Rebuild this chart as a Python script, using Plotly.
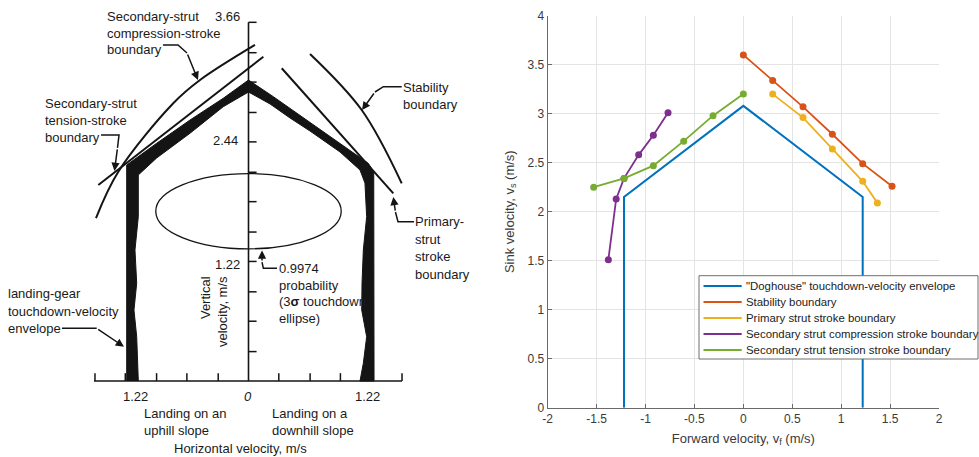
import plotly.graph_objects as go

W, H = 979, 457

# ---------------- right panel data (m/s) ----------------
vf_doghouse = [-1.22, -1.22, 0.0, 1.22, 1.22]
vs_doghouse = [0.0, 2.15, 3.08, 2.15, 0.0]
vf_stability = [0.0, 0.30, 0.61, 0.91, 1.22, 1.52]
vs_stability = [3.60, 3.34, 3.07, 2.79, 2.49, 2.26]
vf_primary = [0.30, 0.61, 0.91, 1.22, 1.37]
vs_primary = [3.20, 2.96, 2.64, 2.31, 2.09]
vf_compression = [-1.38, -1.30, -1.22, -1.07, -0.92, -0.77]
vs_compression = [1.51, 2.13, 2.34, 2.58, 2.78, 3.01]
vf_tension = [-1.53, -1.22, -0.92, -0.61, -0.31, 0.0]
vs_tension = [2.25, 2.34, 2.47, 2.72, 2.98, 3.20]

series_names = ['"Doghouse" touchdown-velocity envelope', "Stability boundary",
                "Primary strut stroke boundary",
                "Secondary strut compression stroke boundary",
                "Secondary strut tension stroke boundary"]
series_colors = ["#0072BD", "#D95319", "#EDB120", "#7E2F8E", "#77AC30"]

x_ticks = [-2, -1.5, -1, -0.5, 0, 0.5, 1, 1.5, 2]
x_ticktext = ["-2", "-1.5", "-1", "-0.5", "0", "0.5", "1", "1.5", "2"]
y_ticks = [0, 0.5, 1, 1.5, 2, 2.5, 3, 3.5, 4]
y_ticktext = ["0", "0.5", "1", "1.5", "2", "2.5", "3", "3.5", "4"]

# ---------------- left panel (scanned sketch) data, m/s ----------------
env_x = [-1.206, -1.206, -1.206, -0.909, -0.579, -0.250, 0.0, 0.246, 0.576, 0.906, 1.186,
         1.240, 1.243, 1.243,
         1.104, 1.137, 1.170, 1.121, 1.124, 1.137, 1.170, 1.153, 1.104,
         0.906, 0.609, 0.411, 0.213, 0.0, -0.250, -0.579, -0.909, -1.091,
         -1.091, -1.124, -1.107, -1.134, -1.107, -1.097, -1.091]
env_y = [0.0, 1.337, 2.204, 2.426, 2.663, 2.885, 3.071, 2.901, 2.663, 2.426, 2.221,
         2.133, 1.337, 0.0,
         0.0, 0.181, 0.452, 0.724, 0.997, 1.337, 1.677, 2.020, 2.153,
         2.337, 2.551, 2.684, 2.827, 2.949, 2.799, 2.528, 2.276, 2.102,
         1.677, 1.337, 0.997, 0.724, 0.452, 0.181, 0.0]

comp_x = [-1.510, -1.289, -0.745, -0.480, 0.064]
comp_y = [1.663, 2.136, 2.834, 3.071, 3.429]
tens_x = [-1.487, 0.147]
tens_y = [2.000, 3.309]
prim_x = [0.329, 1.434]
prim_y = [3.191, 1.915]
stab_x = [0.609, 1.121, 1.517]
stab_y = [3.337, 2.765, 2.017]

ell_cx, ell_cy, ell_a, ell_b = 0.0, 1.733, 0.918, 0.384

h_axis_x = [-1.53, 1.52]
h_tick_x = [-1.52, -1.22, -0.91, -0.61, -0.30, 0.30, 0.61, 0.91, 1.22, 1.52]
v_axis_y = [0.0, 3.66]
v_tick_y = [0.30, 0.61, 0.91, 1.22, 1.52, 1.83, 2.13, 2.44, 2.74, 3.05, 3.35, 3.66]

# leader polylines (last point = arrow tip)
leaders = [
    ([-0.847, -0.698, -0.609, -0.500], [3.429, 3.429, 3.347, 3.071]),
    ([-1.460, -1.282, -1.297, -1.327], [2.510, 2.510, 2.378, 2.143]),
    ([1.517, 1.335, 1.252, 1.124], [3.003, 3.003, 2.949, 2.765]),
    ([1.639, 1.480, 1.455, 1.434], [1.626, 1.626, 1.724, 1.878]),
    ([0.282, 0.147, 0.134, 0.134], [1.150, 1.150, 1.214, 1.332]),
    ([-1.847, -1.503, -1.233], [0.538, 0.538, 0.350]),
]


def PX(x):
    return x / W


def PY(y):
    return 1 - y / H


fig = go.Figure()

# ================= LEFT PANEL =================
INK = "#141414"
fig.add_trace(go.Scatter(x=env_x, y=env_y, fill="toself", fillcolor=INK, mode="lines",
                         line=dict(color=INK, width=1), xaxis="x2", yaxis="y2", hoverinfo="skip"))
for cx, cy, shp in [(comp_x, comp_y, "spline"), (tens_x, tens_y, "linear"),
                    (prim_x, prim_y, "linear"), (stab_x, stab_y, "spline")]:
    fig.add_trace(go.Scatter(x=cx, y=cy, mode="lines", line=dict(color=INK, width=2, shape=shp),
                             xaxis="x2", yaxis="y2", hoverinfo="skip"))

# axes of the sketch
TL = 0.08
fig.add_trace(go.Scatter(x=h_axis_x, y=[0, 0], mode="lines", line=dict(color=INK, width=1.6),
                         xaxis="x2", yaxis="y2", hoverinfo="skip"))
fig.add_trace(go.Scatter(x=[0, 0], y=v_axis_y, mode="lines", line=dict(color=INK, width=1.6),
                         xaxis="x2", yaxis="y2", hoverinfo="skip"))
tx, ty = [], []
for t in h_tick_x:
    tx += [t, t, None]
    ty += [0, TL, None]
for t in v_tick_y:
    tx += [0, TL, None]
    ty += [t, t, None]
fig.add_trace(go.Scatter(x=tx, y=ty, mode="lines", line=dict(color=INK, width=1.5),
                         xaxis="x2", yaxis="y2", hoverinfo="skip"))

# ellipse
fig.add_shape(type="circle", xref="x2", yref="y2",
              x0=ell_cx - ell_a, x1=ell_cx + ell_a, y0=ell_cy - ell_b, y1=ell_cy + ell_b,
              line=dict(color=INK, width=1.3))

# leaders
for lx, ly in leaders:
    fig.add_trace(go.Scatter(x=lx[:-1], y=ly[:-1], mode="lines", line=dict(color=INK, width=1.5),
                             xaxis="x2", yaxis="y2", hoverinfo="skip"))
    fig.add_annotation(x=lx[-1], y=ly[-1], ax=lx[-2], ay=ly[-2], xref="x2", yref="y2",
                       axref="x2", ayref="y2", text="", showarrow=True, arrowhead=2,
                       arrowsize=1.1, arrowwidth=1.5, arrowcolor=INK, standoff=0)

SK = dict(family="Liberation Sans, Arial, sans-serif", size=13, color="#1a1a1a")


def txt(x, y, s, anchor="left", **kw):
    fig.add_annotation(x=PX(x), y=PY(y), xref="paper", yref="paper", text=s, showarrow=False,
                       xanchor=anchor, yanchor="middle", font=SK, borderpad=0, **kw)


for x, y, s in [(106, 16, "Secondary-strut"), (214, 16, "3.66"), (106, 33, "compression-stroke"),
                (106, 49.5, "boundary"),
                (44, 103.3, "Secondary-strut"), (44, 120, "tension-stroke"), (44, 137, "boundary"),
                (402, 87.3, "Stability"), (402, 105, "boundary"),
                (414, 221.7, "Primary-"), (414, 240, "strut"), (414, 256.7, "stroke"),
                (414, 274, "boundary"),
                (212, 140, "2.44"), (214, 264, "1.22"),
                (277.5, 268.3, "0.9974"), (277.5, 285, "probability"),
                (277.5, 301.7, "(3<b>σ</b> touchdown"), (277.5, 318.3, "ellipse)"),
                (7, 293.3, "landing-gear"), (7, 311, "touchdown-velocity"), (7, 328.7, "envelope"),
                (142.5, 413.3, "Landing on an"), (142.5, 430, "uphill slope"),
                (271, 413.3, "Landing on a"), (271, 430, "downhill slope")]:
    txt(x, y, s)
for x, y, s in [(135, 396.7, "1.22"), (248.3, 396.7, "<i>0</i>"), (367, 396.7, "1.22"),
                (240.5, 448.3, "Horizontal velocity, m/s")]:
    txt(x, y, s, anchor="center")
fig.add_annotation(x=PX(213.5), y=PY(311.5), xref="paper", yref="paper",
                   text="Vertical<br>velocity, m/s", showarrow=False, textangle=-90,
                   align="right", xanchor="center", yanchor="middle", font=SK)

# ================= RIGHT PANEL =================
fig.add_trace(go.Scatter(x=vf_doghouse, y=vs_doghouse, mode="lines", name=series_names[0],
                         line=dict(color=series_colors[0], width=2), xaxis="x", yaxis="y"))
for vx, vy, nm, col in [(vf_stability, vs_stability, series_names[1], series_colors[1]),
                        (vf_primary, vs_primary, series_names[2], series_colors[2]),
                        (vf_compression, vs_compression, series_names[3], series_colors[3]),
                        (vf_tension, vs_tension, series_names[4], series_colors[4])]:
    fig.add_trace(go.Scatter(x=vx, y=vy, mode="lines+markers", name=nm,
                             line=dict(color=col, width=1.8),
                             marker=dict(color=col, size=7), xaxis="x", yaxis="y"))

# custom MATLAB-style legend
lg_x0, lg_x1, lg_y0, lg_y1 = 699, 978, 275.7, 359
fig.add_shape(type="rect", xref="paper", yref="paper", x0=PX(lg_x0), x1=PX(lg_x1),
              y0=PY(lg_y1), y1=PY(lg_y0), fillcolor="white", line=dict(color="#6e6e6e", width=1),
              layer="above")
for i, (nm, col) in enumerate(zip(series_names, series_colors)):
    yy = 286 + i * 16.0
    fig.add_shape(type="line", xref="paper", yref="paper", x0=PX(703.5), x1=PX(741.7),
                  y0=PY(yy), y1=PY(yy), line=dict(color=col, width=2), layer="above")
    fig.add_annotation(x=PX(744.5), y=PY(yy), xref="paper", yref="paper", text=nm,
                       showarrow=False, xanchor="left", yanchor="middle", borderpad=0,
                       font=dict(family="Liberation Sans, Arial, sans-serif", size=11.4,
                                 color="#222222"))

AXC = "#6a6a6a"
TKF = dict(family="Liberation Sans, Arial, sans-serif", size=12, color="#3a3a3a")
TTF = dict(family="Liberation Sans, Arial, sans-serif", size=13, color="#3a3a3a")
fig.update_layout(
    width=W, height=H, margin=dict(l=0, r=0, t=0, b=0, autoexpand=False),
    paper_bgcolor="white", plot_bgcolor="white", showlegend=False,
    xaxis=dict(domain=[PX(547.7), PX(939)], range=[-2, 2], tickvals=x_ticks, ticktext=x_ticktext,
               showline=True, linecolor=AXC, linewidth=1, ticks="inside", ticklen=4,
               tickcolor=AXC, showgrid=True, gridcolor="#e4e4e4", zeroline=False,
               tickfont=TKF, anchor="y", automargin=False,
               title=dict(text="Forward velocity, v<sub>f</sub> (m/s)", font=TTF, standoff=8)),
    yaxis=dict(domain=[PY(407.7), PY(15.7)], range=[0, 4], tickvals=y_ticks, ticktext=y_ticktext,
               showline=True, linecolor=AXC, linewidth=1, ticks="inside", ticklen=4,
               tickcolor=AXC, showgrid=True, gridcolor="#e4e4e4", zeroline=False,
               tickfont=TKF, anchor="x", automargin=False,
               title=dict(text="Sink velocity, v<sub>s</sub> (m/s)", font=TTF, standoff=10)),
    xaxis2=dict(domain=[0, PX(480)], range=[(0 - 248.5) / 101, (480 - 248.5) / 101],
                visible=False, anchor="y2", automargin=False),
    yaxis2=dict(domain=[0, 1], range=[(381 - 457) / 98, 381 / 98], visible=False, anchor="x2",
                automargin=False),
)

fig.write_html("out.html")
